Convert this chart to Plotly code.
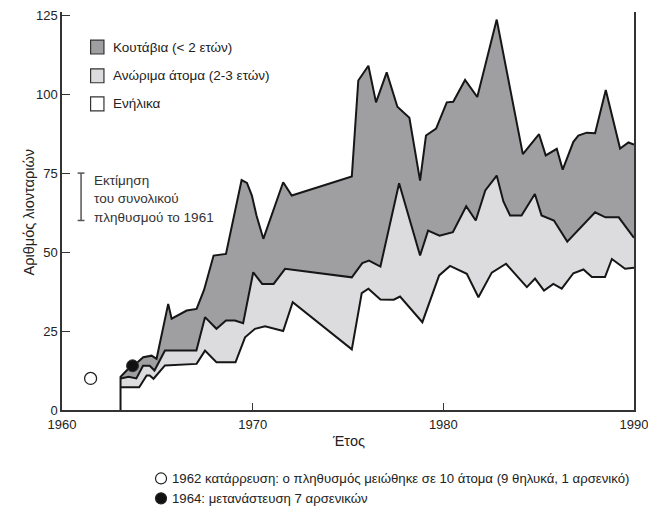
import plotly.graph_objects as go

# ---- data ----
years_total = [1963.07, 1963.07, 1963.47, 1963.7, 1964.26, 1964.7, 1964.96, 1965.57, 1965.75,
               1966.54, 1967.06, 1967.45, 1967.95, 1968.6, 1969.42, 1969.7, 1969.96, 1970.2,
               1970.56, 1971.6, 1972.05, 1975.2, 1975.54, 1976.07, 1976.47, 1977.03, 1977.59,
               1978.22, 1978.78, 1979.09, 1979.62, 1980.18, 1980.52, 1981.14, 1981.78, 1982.8,
               1984.17, 1985.02, 1985.37, 1985.95, 1986.26, 1986.82, 1987.08, 1987.52, 1987.96,
               1988.52, 1989.27, 1989.71, 1990.0]
total = [0, 10.5, 13.0, 13.7, 16.7, 17.2, 16.2, 33.6, 28.9,
         31.5, 32.0, 38.0, 48.9, 49.4, 72.8, 71.9, 67.9, 61.6,
         54.2, 72.1, 67.9, 73.9, 104.3, 109.0, 97.4, 106.9, 96.0,
         92.5, 72.6, 86.9, 89.1, 97.4, 97.6, 104.5, 99.1, 123.6,
         81.0, 87.3, 80.6, 82.7, 76.1, 84.9, 86.9, 87.8, 87.6,
         101.3, 82.8, 84.7, 84.0]

years_mid = [1963.07, 1963.5, 1963.9, 1964.25, 1964.6, 1964.85, 1965.4, 1967.05, 1967.5,
             1968.1, 1968.6, 1969.07, 1969.5, 1970.03, 1970.5, 1971.1, 1971.7, 1975.2,
             1975.75, 1976.1, 1976.7, 1977.68, 1978.78, 1979.2, 1979.8, 1980.5, 1981.2,
             1981.7, 1982.2, 1982.8, 1983.15, 1983.5, 1984.1, 1984.8, 1985.15, 1985.8,
             1986.5, 1987.96, 1988.5, 1989.2, 1990.0]
adults_plus_subadults = [10.0, 10.5, 10.0, 14.0, 14.0, 12.5, 18.8, 18.8, 29.4,
                         25.7, 28.3, 28.3, 27.5, 43.6, 39.9, 39.9, 44.7, 42.0,
                         46.5, 47.3, 45.4, 71.8, 48.9, 56.8, 55.2, 56.3, 64.5,
                         60.0, 69.5, 74.2, 66.0, 61.6, 61.6, 68.4, 61.6, 60.0,
                         53.3, 62.6, 61.0, 61.0, 54.5]

years_adult = [1963.07, 1964.05, 1964.44, 1964.6, 1964.8, 1965.4, 1967.06, 1967.5, 1968.1,
               1969.1, 1969.6, 1970.12, 1970.65, 1971.6, 1972.1, 1975.2, 1975.72, 1976.07,
               1976.7, 1977.4, 1977.73, 1978.9, 1979.78, 1980.35, 1981.23, 1981.84, 1982.54,
               1983.29, 1984.38, 1984.81, 1985.28, 1985.77, 1986.21, 1986.82, 1987.35, 1987.79,
               1988.48, 1988.84, 1989.53, 1990.0]
adults = [7.2, 7.2, 10.9, 10.9, 9.9, 14.1, 14.6, 18.8, 15.1,
          15.1, 23.0, 25.7, 26.5, 25.0, 34.1, 19.2, 37.0, 38.4,
          35.0, 34.9, 35.9, 27.8, 42.6, 45.6, 43.1, 35.7, 43.5,
          46.3, 38.9, 41.6, 37.8, 39.9, 38.4, 43.3, 44.5, 42.1,
          42.1, 47.8, 44.7, 45.0]

collapse_point = (1961.5, 10)      # 1962 crash: 10 lions
immigration_point = (1963.7, 14)   # 1964: 7 males immigrate
estimate_1961 = (1961.0, 60, 75)   # estimate range of 1961 population

legend_labels = ["Κουτάβια (< 2 ετών)", "Ανώριμα άτομα (2-3 ετών)", "Ενήλικα"]
x_ticks = [1960, 1970, 1980, 1990]
y_ticks = [0, 25, 50, 75, 100, 125]

DARK = "#9f9fa2"
LIGHT = "#dcdcde"
LINE = "#161616"
TXT = "#222222"
FONT = "Liberation Sans, Arial, sans-serif"

fig = go.Figure()
# fills (drawn back to front)
fig.add_trace(go.Scatter(x=years_total, y=total, mode="none", fill="tozeroy",
                         fillcolor=DARK, showlegend=False, hoverinfo="skip"))
fig.add_trace(go.Scatter(x=years_mid, y=adults_plus_subadults, mode="none", fill="tozeroy",
                         fillcolor=LIGHT, showlegend=False, hoverinfo="skip"))
fig.add_trace(go.Scatter(x=years_adult, y=adults, mode="none", fill="tozeroy",
                         fillcolor="white", showlegend=False, hoverinfo="skip"))
# outlines
for xs, ys in [(years_total, total), (years_mid, adults_plus_subadults), (years_adult, adults)]:
    fig.add_trace(go.Scatter(x=xs, y=ys, mode="lines",
                             line=dict(color=LINE, width=2, shape="linear"),
                             showlegend=False, hoverinfo="skip"))

fig.add_trace(go.Scatter(x=[collapse_point[0]], y=[collapse_point[1]], mode="markers",
                         marker=dict(size=12, color="white", line=dict(color="#222", width=1.3)),
                         showlegend=False, cliponaxis=False, hoverinfo="skip"))
fig.add_trace(go.Scatter(x=[immigration_point[0]], y=[immigration_point[1]], mode="markers",
                         marker=dict(size=12, color="#111", line=dict(color="#333", width=1)),
                         showlegend=False, hoverinfo="skip"))

shapes = []
annotations = []

# manual legend
leg_y = [114.9, 105.8, 96.9]
leg_fill = [DARK, LIGHT, "white"]
for yc, fc, lab in zip(leg_y, leg_fill, legend_labels):
    shapes.append(dict(type="rect", xref="x", yref="y", x0=1961.5, x1=1962.2,
                       y0=yc - 2.2, y1=yc + 2.2, fillcolor=fc,
                       line=dict(color="#333", width=1.2)))
    annotations.append(dict(x=1962.55, y=yc, xref="x", yref="y", text=lab, showarrow=False,
                            xanchor="left", yanchor="middle",
                            font=dict(family=FONT, size=13.5, color=TXT)))

# 1961 estimate bracket
ex, ey0, ey1 = estimate_1961
shapes.append(dict(type="line", xref="x", yref="y", x0=ex, x1=ex, y0=ey0, y1=ey1,
                   line=dict(color="#555", width=1.5)))
for yy in (ey0, ey1):
    shapes.append(dict(type="line", xref="x", yref="y", x0=ex - 0.18, x1=ex + 0.18, y0=yy, y1=yy,
                       line=dict(color="#555", width=1.5)))
for txt, yy in zip(["Εκτίμηση", "του συνολικού", "πληθυσμού το 1961"], [72.6, 66.9, 60.9]):
    annotations.append(dict(x=1961.55, y=yy, xref="x", yref="y", text=txt, showarrow=False,
                            xanchor="left", yanchor="middle",
                            font=dict(family=FONT, size=13.5, color="#333")))

# axis titles
annotations.append(dict(x=-0.058, y=0.496, xref="paper", yref="paper", text="Αριθμός λιονταριών",
                        textangle=-90, showarrow=False, xanchor="center", yanchor="middle",
                        font=dict(family=FONT, size=14.5, color=TXT)))
annotations.append(dict(x=0.5, y=-0.079, xref="paper", yref="paper", text="Έτος",
                        showarrow=False, xanchor="center", yanchor="middle",
                        font=dict(family=FONT, size=14.5, color=TXT)))

# notes below the chart
note_y = [-0.172, -0.222]
notes = ["1962 κατάρρευση: ο πληθυσμός μειώθηκε σε 10 άτομα (9 θηλυκά, 1 αρσενικό)",
         "1964: μετανάστευση 7 αρσενικών"]
note_fill = ["white", "#111"]
for yy, txt, fc in zip(note_y, notes, note_fill):
    shapes.append(dict(type="circle", xref="paper", yref="paper",
                       x0=0.1635, x1=0.1635 + 11 / 572, y0=yy - 5.5 / 398, y1=yy + 5.5 / 398,
                       fillcolor=fc, line=dict(color="#222", width=1.2)))
    annotations.append(dict(x=0.188, y=yy, xref="paper", yref="paper", text=txt,
                            showarrow=False, xanchor="left", yanchor="middle",
                            font=dict(family=FONT, size=13.2, color=TXT)))

fig.update_layout(
    width=648, height=511, autosize=False,
    margin=dict(l=62, r=14, t=12, b=101, autoexpand=False),
    paper_bgcolor="white", plot_bgcolor="white",
    shapes=shapes, annotations=annotations,
    font=dict(family=FONT, size=13, color=TXT),
    hovermode=False,
    xaxis=dict(range=[1960, 1990], tickvals=x_ticks, ticks="inside", ticklen=7,
               tickcolor="#333", showline=True, linecolor="#333", linewidth=1.5,
               showgrid=False, zeroline=False, ticklabeloverflow="allow", automargin=False,
               ticklabelstandoff=2, tickfont=dict(size=13, color=TXT)),
    yaxis=dict(range=[0, 126], tickvals=y_ticks, ticks="inside", ticklen=8,
               tickcolor="#333", showline=True, linecolor="#333", linewidth=1.5,
               mirror=True, showgrid=False, zeroline=False, automargin=False,
               tickfont=dict(size=13, color=TXT)),
)

fig.write_html("out.html", config={"displayModeBar": False},
               post_script="document.body.style.margin='0px';document.body.style.overflow='hidden';")
